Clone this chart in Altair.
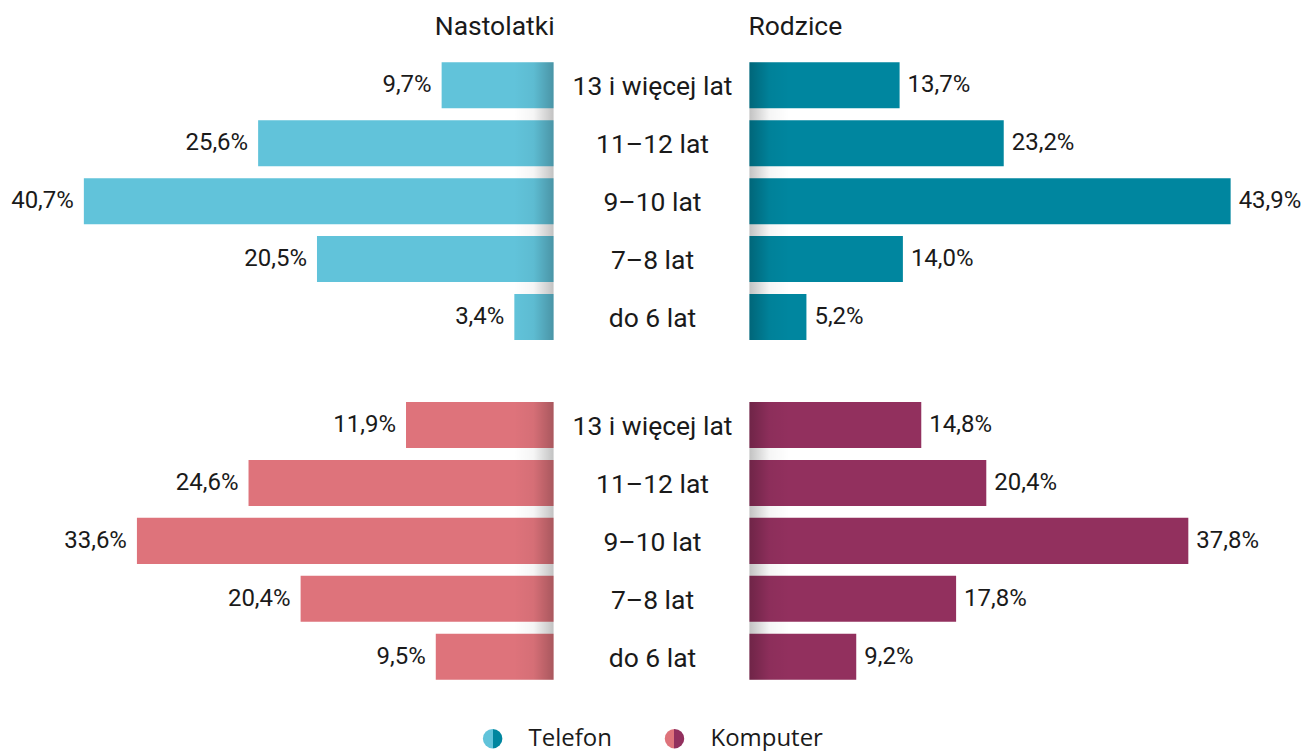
import altair as alt
import pandas as pd

# ---------------- data ----------------
categories = ["13 i więcej lat", "11–12 lat", "9–10 lat", "7–8 lat", "do 6 lat"]
groups = ["Nastolatki", "Rodzice"]
devices = ["Telefon", "Komputer"]
telefon_nastolatki = [9.7, 25.6, 40.7, 20.5, 3.4]
telefon_rodzice = [13.7, 23.2, 43.9, 14.0, 5.2]
komputer_nastolatki = [11.9, 24.6, 33.6, 20.4, 9.5]
komputer_rodzice = [14.8, 20.4, 37.8, 17.8, 9.2]

# ---------------- style ----------------
C_TEL_N = "#61C3DA"
C_TEL_R = "#00869F"
C_KOM_N = "#DE737B"
C_KOM_R = "#92305E"
TXT = "#1a1a1a"
FONT = "Roboto"
FS_CAT = 26.5
FS_VAL = 24
FS_HDR = 26.5
FS_LEG = 24

LEFT_W, CENTER_W, RIGHT_W = 546, 196, 544
TOTAL_W = LEFT_W + CENTER_W + RIGHT_W
STEP = 58
ROW_H = 290
GAP = 50
SHADE_PX = 40
N = len(categories)


def shade_gradient(dark_at_right):
    clear = "rgba(0,0,0,0)"
    mid = "rgba(0,0,0,0.04)"
    dark = "rgba(0,0,0,0.24)"
    if dark_at_right:
        stops = [alt.GradientStop(color=clear, offset=0),
                 alt.GradientStop(color=mid, offset=0.5),
                 alt.GradientStop(color=dark, offset=1)]
    else:
        stops = [alt.GradientStop(color=dark, offset=0),
                 alt.GradientStop(color=mid, offset=0.5),
                 alt.GradientStop(color=clear, offset=1)]
    return alt.LinearGradient(gradient="linear", stops=stops, x1=0, x2=1, y1=0, y2=0)


def frame(values):
    return pd.DataFrame({"kategoria": categories, "wartosc": values, "idx": list(range(N))})


def side(values, color, dmax, width, height, ymin, left):
    g = SHADE_PX * dmax / width
    base = alt.Chart(frame(values)).transform_calculate(
        y0="datum.idx + 0.103",
        y1="datum.idx + 0.897",
        ym="datum.idx + 0.5",
        zero="0",
        sg=str(g),
        sy1=str(N - 1 + 0.897),
        etykieta="replace(format(datum.wartosc, '.1f'), '.', ',') + '%'",
    )
    xscale = alt.Scale(domain=[0, dmax], reverse=left, nice=False, zero=True)
    yscale = alt.Scale(domain=[ymin, 5], reverse=True, nice=False, zero=False)
    bars = base.mark_rect(color=color).encode(
        x=alt.X("wartosc:Q", scale=xscale, axis=None),
        x2="zero:Q",
        y=alt.Y("y0:Q", scale=yscale, axis=None),
        y2="y1:Q",
    )
    labels = base.mark_text(
        align="right" if left else "left",
        dx=-10 if left else 8,
        baseline="middle",
        fontSize=FS_VAL,
        font=FONT,
        color=TXT,
    ).encode(
        x=alt.X("wartosc:Q", scale=xscale, axis=None),
        y=alt.Y("ym:Q", scale=yscale, axis=None),
        text="etykieta:N",
    )
    shade = base.transform_filter("datum.idx == 0").mark_rect(
        fill=shade_gradient(dark_at_right=left)
    ).encode(
        x=alt.X("sg:Q", scale=xscale, axis=None),
        x2="zero:Q",
        y=alt.Y("y0:Q", scale=yscale, axis=None),
        y2="sy1:Q",
    )
    return alt.layer(bars, shade, labels).properties(width=width, height=height)


def center(height, ymin):
    yscale = alt.Scale(domain=[ymin, 5], reverse=True, nice=False, zero=False)
    return alt.Chart(
        pd.DataFrame({"kategoria": categories, "idx": list(range(N))})
    ).transform_calculate(ym="datum.idx + 0.5").mark_text(
        fontSize=FS_CAT, font=FONT, color=TXT, baseline="middle", dy=2
    ).encode(
        x=alt.value(CENTER_W / 2 + 1),
        y=alt.Y("ym:Q", scale=yscale, axis=None),
        text="kategoria:N",
    ).properties(width=CENTER_W, height=height)


def row(v_left, v_right, c_left, c_right, dmax_left, dmax_right, height, ymin):
    return alt.hconcat(
        side(v_left, c_left, dmax_left, LEFT_W, height, ymin, left=True),
        center(height, ymin),
        side(v_right, c_right, dmax_right, RIGHT_W, height, ymin, left=False),
        spacing=0,
    ).resolve_scale(x="independent", y="independent")


top_row = row(telefon_nastolatki, telefon_rodzice, C_TEL_N, C_TEL_R,
              LEFT_W / 11.55, RIGHT_W / 10.97, ROW_H, 0)
bottom_row = row(komputer_nastolatki, komputer_rodzice, C_KOM_N, C_KOM_R,
                 LEFT_W / 12.41, RIGHT_W / 11.62, ROW_H + GAP, -GAP / STEP)

# header
hdr_df = pd.DataFrame({"grupa": groups})
hdr_left = alt.Chart(hdr_df).transform_filter(f"datum.grupa == '{groups[0]}'").mark_text(
    align="right", baseline="middle", fontSize=FS_HDR, font=FONT, color=TXT
).encode(x=alt.value(LEFT_W + 1), y=alt.value(19), text="grupa:N")
hdr_right = alt.Chart(hdr_df).transform_filter(f"datum.grupa == '{groups[1]}'").mark_text(
    align="left", baseline="middle", fontSize=FS_HDR, font=FONT, color=TXT
).encode(x=alt.value(LEFT_W + CENTER_W - 1), y=alt.value(19), text="grupa:N")
header = alt.layer(hdr_left, hdr_right).properties(width=TOTAL_W, height=48)

# legend
leg_df = pd.DataFrame({"urzadzenie": devices})
leg_layers = []
leg_cx = [485, 667]
leg_colors = [(C_TEL_N, C_TEL_R), (C_KOM_N, C_KOM_R)]
for i, dev in enumerate(devices):
    c1, c2 = leg_colors[i]
    grad = alt.LinearGradient(
        gradient="linear",
        stops=[alt.GradientStop(color=c1, offset=0), alt.GradientStop(color=c1, offset=0.5),
               alt.GradientStop(color=c2, offset=0.5), alt.GradientStop(color=c2, offset=1)],
        x1=0, x2=1, y1=0, y2=0,
    )
    filt = alt.Chart(leg_df).transform_filter(f"datum.urzadzenie == '{dev}'")
    leg_layers.append(
        filt.mark_circle(size=380, fill=grad, opacity=1)
        .encode(x=alt.value(leg_cx[i]), y=alt.value(53))
    )
    leg_layers.append(
        filt.mark_text(align="left", baseline="middle", fontSize=FS_LEG, font="Open Sans", color=TXT)
        .encode(x=alt.value(leg_cx[i] + 36), y=alt.value(53), text="urzadzenie:N")
    )
legend = alt.layer(*leg_layers).properties(width=TOTAL_W, height=62)

chart = alt.vconcat(
    header, top_row, bottom_row, legend, spacing=0
).resolve_scale(x="independent", y="independent").properties(
    padding=0, background="white"
).configure_view(stroke=None)

chart.save("out.html", embed_options={"renderer": "svg", "actions": False})
